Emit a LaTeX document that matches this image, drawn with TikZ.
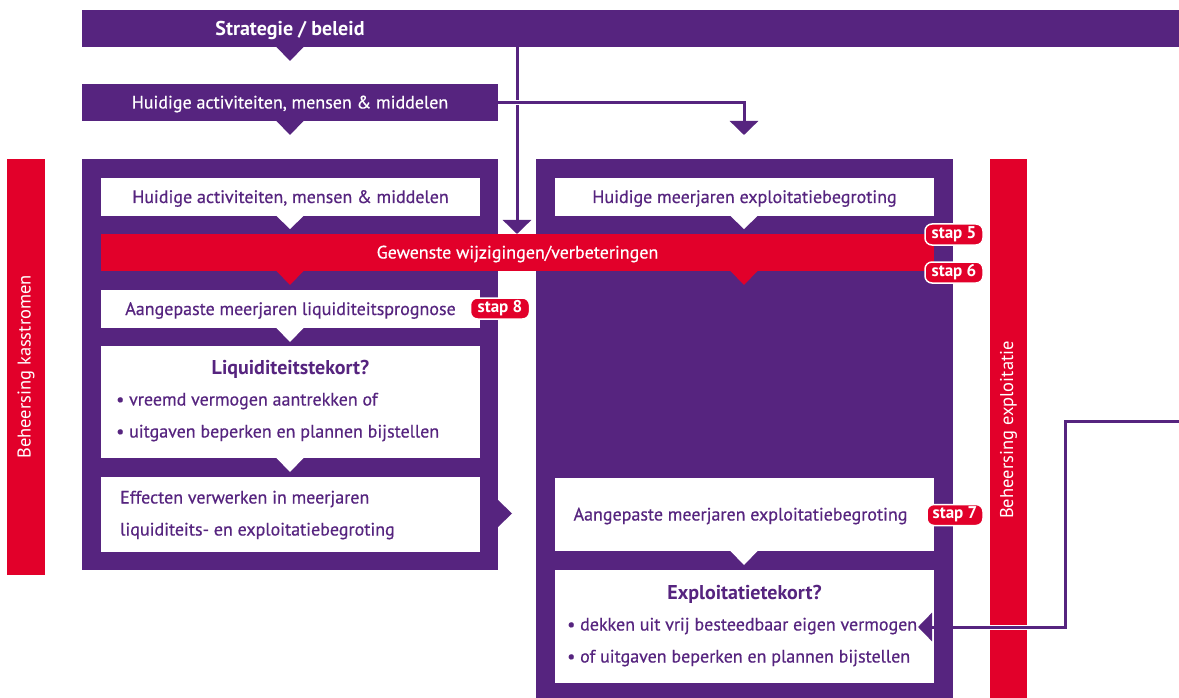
\documentclass[tikz,border=0pt]{standalone}
\usepackage{fontspec}
\setmainfont{PT Sans}
\newfontfamily\bodyfont{PT Sans}[FakeBold=0.5]
\newfontfamily\sidefont{PT Sans}
\usetikzlibrary{arrows.meta,calc}
\definecolor{pp}{HTML}{56247F}
\definecolor{rr}{HTML}{E2002A}
\begin{document}
\begin{tikzpicture}[x=1pt,y=-1pt,
  blk/.style={rectangle,inner sep=0pt,outer sep=0pt,minimum width=#1,text height=14pt,text depth=2pt},
  bodyf/.style={font=\bodyfont\fontsize{18}{21}\selectfont},
  headf/.style={font=\bfseries\fontsize{20}{23}\selectfont,text height=15pt,text depth=2pt},
  pbar/.style={blk=#1,fill=pp,text=white,bodyf},
  rbar/.style={blk=#1,fill=rr,text=white,bodyf},
  wbox/.style={blk=#1,fill=white,text=pp,bodyf},
  txt/.style={inner sep=0pt,text=pp,bodyf,text height=13pt,text depth=2pt},
  badge/.style={fill=rr,draw=white,line width=1.5pt,rounded corners=7pt,text=white,
     font=\bfseries\fontsize{17}{19}\selectfont,inner sep=0pt,minimum width=#1,minimum height=21pt,
     text height=9pt,text depth=2pt},
  side/.style={text=white,font=\sidefont\fontsize{18.5}{21}\selectfont,rotate=90,inner sep=0pt},
  conn/.style={draw=pp,line width=3pt,-{Triangle[width=28pt,length=14pt]}},
  casing/.style={draw=white,line width=5pt}]
\useasboundingbox (0,0) rectangle (1179,698);

% bars and frames
\node[pbar=1097pt,minimum height=37pt] (strat) at (630.5,28.5) {};
\node[text=white,headf,inner sep=0pt,text height=17pt] (strattxt) at (290,28.5) {Strategie / beleid};
\node[pbar=416pt,minimum height=37pt] (hui0) at (290,102.5) {Huidige activiteiten, mensen \& middelen};
\node[blk=416pt,minimum height=411pt,fill=pp] (leftbox) at (290,364.5) {};
\node[blk=417pt,minimum height=539pt,fill=pp] (rightbox) at (744.5,428.5) {};
\node[blk=38pt,minimum height=416pt,fill=rr] (redL) at (26,367) {};
\node[blk=37pt,minimum height=539pt,fill=rr] (redR) at (1008.5,428.5) {};
\node[side] (sideL) at (26,367) {Beheersing kasstromen};
\node[side] (sideR) at (1008.5,430) {Beheersing exploitatie};

% triangles of the top bars
\fill[pp] (276,46.5) -- (304,46.5) -- (290,61) -- cycle;
\fill[pp] (276,120.5) -- (304,120.5) -- (290,135) -- cycle;

% inner boxes
\node[wbox=379pt,minimum height=38pt] (L1) at (290.5,197) {Huidige activiteiten, mensen \& middelen};
\node[wbox=379pt,minimum height=38pt] (R1) at (744.5,197) {Huidige meerjaren exploitatiebegroting};
\node[rbar=833pt,minimum height=37pt] (red) at (517.5,252.5) {Gewenste wijzigingen/verbeteringen};
\node[wbox=379pt,minimum height=38pt] (L2) at (290.5,309) {Aangepaste meerjaren liquiditeitsprognose};
\node[wbox=379pt,minimum height=112pt] (L3) at (290.5,402) {};
\node[wbox=379pt,minimum height=75pt] (L4) at (290.5,514.5) {};
\node[wbox=379pt,minimum height=73pt] (R2) at (744.5,514.5) {};
\node[txt] (R2t) at (740.5,515) {Aangepaste meerjaren exploitatiebegroting};
\node[wbox=379pt,minimum height=113pt] (R3) at (744.5,626.5) {};

% triangles of the inner boxes
\fill[white] (276,215.5) -- (304,215.5) -- (290,229) -- cycle;
\fill[white] (730,215.5) -- (758,215.5) -- (744,229) -- cycle;
\fill[rr] (276,270.5) -- (304,270.5) -- (290,285) -- cycle;
\fill[rr] (730,270.5) -- (758,270.5) -- (744,285) -- cycle;
\fill[white] (276,327.5) -- (304,327.5) -- (290,342) -- cycle;
\fill[white] (276,457.5) -- (304,457.5) -- (290,472) -- cycle;
\fill[white] (730,550.5) -- (758,550.5) -- (744,565) -- cycle;
\fill[pp] (498,500) -- (512,513.5) -- (498,527) -- cycle;

% texts
\node[txt,headf] (L3h) at (290.5,368) {Liquiditeitstekort?};
\node[txt,anchor=west] (L3a) at (116,400) {• vreemd vermogen aantrekken of};
\node[txt,anchor=west] (L3b) at (116,432) {• uitgaven beperken en plannen bijstellen};
\node[txt,anchor=west] (L4a) at (120,498) {Effecten verwerken in meerjaren};
\node[txt,anchor=west] (L4b) at (120,530) {liquiditeits- en exploitatiebegroting};
\node[txt,headf] (R3h) at (744.5,593) {Exploitatietekort?};
\node[txt,anchor=west] (R3a) at (567,625) {• dekken uit vrij besteedbaar eigen vermogen};
\node[txt,anchor=west] (R3b) at (567,657) {• of uitgaven beperken en plannen bijstellen};

% badges
\node[badge=58pt] (s5) at (954,234.5) {stap 5};
\node[badge=58pt] (s6) at (954,272.5) {stap 6};
\node[badge=59pt] (s8) at (500,308.5) {stap 8};
\node[badge=56pt] (s7) at (955,515) {stap 7};

% connectors
\coordinate (sx) at (517,47);
\draw[conn] (sx) -- (sx |- red.north);
\coordinate (tr) at (744,135);
\draw[casing] (hui0.east) -- (510,102.5) -- (525,102.5);
\draw[conn] (hui0.east) -| (tr);
\coordinate (rin) at (1179,421);
\coordinate (rk) at (1065,421);
\coordinate (rt) at (918,627);
\draw[casing] (1032,627) -- (985,627);
\draw[conn] (rin) -- (rk) |- (rt);
\end{tikzpicture}
\end{document}
